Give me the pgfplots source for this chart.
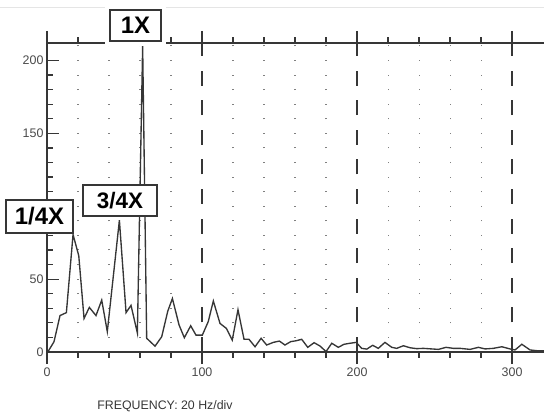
\documentclass[border=0pt]{standalone}
\usepackage{fontspec}
\setmainfont{Liberation Sans}
\usepackage{pgfplots}
\pgfplotsset{compat=1.18}

\definecolor{ink}{HTML}{363636}
\definecolor{lbl}{HTML}{4A4A4A}

\begin{document}
\begin{tikzpicture}
\path[use as bounding box] (0,0) rectangle (544bp,414bp);
% faint scan line at the top
\draw[black!10, line width=0.8bp] (0,407bp) -- (544bp,407bp);

\begin{axis}[
  at={(47bp,62bp)}, anchor=south west,
  width=497bp, height=309bp, scale only axis,
  xmin=0, xmax=320.6, ymin=0, ymax=212,
  axis x line*=box, axis y line*=left,
  axis line style={ink, line width=1.3bp},
  xtick={0,100,200,300},
  minor xtick={20,40,60,80,120,140,160,180,220,240,260,280},
  ytick={0,50,100,150,200},
  yticklabels={0,50,,150,200},
  minor y tick num=4,
  xtick align=outside, ytick align=inside,
  major tick length=12bp, minor tick length=5.5bp,
  every tick/.style={ink, line width=1.2bp},
  xmajorgrids, xminorgrids,
  major grid style={ink, line width=1.2bp, dash pattern=on 15bp off 14.6bp},
  minor grid style={black!50, line width=1.1bp, dash pattern=on 1bp off 13.575bp, dash phase=0.5bp},
  ticklabel style={font=\fontsize{12.5}{14}\selectfont, text=lbl},
  /pgf/number format/assume math mode=true,
  clip=false,
]
\addplot[ink, line width=1.35bp, mark=none, sharp plot] coordinates {
  (0.5,0) (4.5,7) (8.4,25) (12.5,27) (16.8,80.6) (20.5,66) (23.9,23)
  (27.3,30.6) (31.6,25) (35.3,35.6) (38.9,14) (46.7,90.4) (51,27)
  (54.2,32) (58.3,13) (61.7,210) (64.3,9.4) (69.7,4) (74,10.5) (77.9,28)
  (80.9,36.7) (85.2,18.5) (88.6,9.8) (92.7,18) (96.1,11.6) (100.2,11.6)
  (104,20.8) (107.3,35) (111.6,19.6) (115.7,16.2) (119.5,8.2) (123.2,29)
  (127.1,8.7) (130.3,8.7) (134.2,3.6) (138.1,9.4) (141.7,4.8) (146,6.6)
  (149.9,7.5) (153.5,4.8) (157.2,7.1) (160.6,7.7) (164.3,8.7) (168.2,3.2)
  (172.3,6.4) (176.1,4.1) (180,0.3) (183.7,6) (187.9,3.2) (191.6,5.3)
  (195.5,6) (199.4,6.6) (203,2.5) (206.3,2) (210.1,4.6) (213.7,2.5)
  (218,6.6) (222.4,3.2) (225.6,2.5) (229.9,4.3) (234.2,2.9) (238.5,2.3)
  (242.8,2.5) (248.2,2.1) (252.5,1.8) (257.4,3.2) (262.1,2.5) (266.5,2.5)
  (272.9,1.8) (278.3,3.2) (282.6,2.1) (287.9,2.5) (293.4,3.6) (298.7,2.1)
  (301.9,1.4) (306.3,5.3) (311.6,1.4) (315.9,0.9) (320.6,0.9)
};
\end{axis}

% peak labels
\tikzset{box/.style={draw=ink, line width=1.3bp, fill=white, inner sep=0pt,
  text=black}}
\node[box, minimum width=51bp, minimum height=31bp,
  preaction={draw=white, line width=10bp}, font=\fontsize{24}{26}\selectfont\bfseries]
  at (135.5bp,388.5bp) {1X};
\node[box, minimum width=74bp, minimum height=31bp, font=\fontsize{22.5}{24}\selectfont\bfseries]
  at (120bp,213.5bp) {3/4X};
\node[box, minimum width=67bp, minimum height=33bp, font=\fontsize{24}{26}\selectfont\bfseries]
  at (39.5bp,197.5bp) {1/4X};

\node[anchor=base, text=ink, font=\fontsize{12.4}{14}\selectfont] at (165bp,4.5bp)
  {FREQUENCY: 20 Hz/div};
\end{tikzpicture}
\end{document}
